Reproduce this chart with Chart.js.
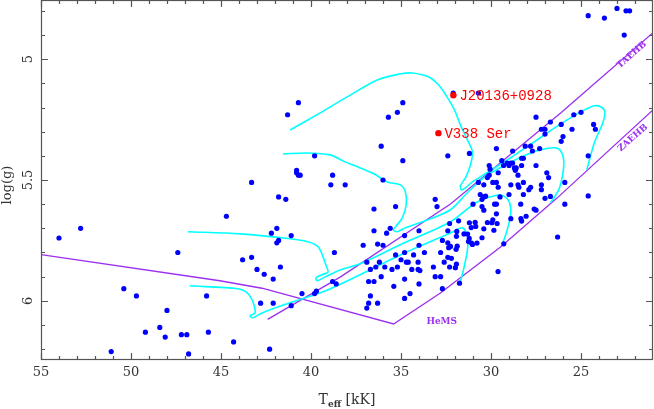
<!DOCTYPE html>
<html>
<head>
<meta charset="utf-8">
<script src="https://cdn.jsdelivr.net/npm/chart.js@4.4.1/dist/chart.umd.min.js"></script>
<style>
html,body{margin:0;padding:0;background:#fff;}
</style>
</head>
<body>
<canvas id="mainChart" width="654" height="409"></canvas>
<script>

/* DATA */

const starTeff = [
54.0,52.8,47.4,50.4,49.7,48.0,45.8,48.4,49.2,48.1,47.2,46.9,45.7,51.1,46.8,44.7,44.3,
40.7,41.3,39.8,40.8,40.8,40.7,40.6,38.8,43.3,38.9,38.1,41.8,41.4,41.9,42.2,41.1,41.8,41.9,
38.7,43.8,43.3,43.0,42.6,41.7,42.1,38.8,38.6,40.5,39.8,39.7,42.8,42.1,41.1,42.3,
34.9,35.2,35.7,36.1,34.9,36.0,33.1,32.4,32.1,30.7,31.2,
36.5,35.3,33.0,36.5,35.6,35.8,34.8,34.0,37.1,36.3,36.0,34.0,32.7,32.4,32.25,32.35,32.4,32.3,
36.9,36.2,35.3,34.8,35.0,34.7,34.6,34.3,33.7,32.8,32.4,36.7,36.4,35.9,35.5,35.2,34.4,34.05,
34.05,33.95,33.2,32.6,32.3,36.8,36.5,36.1,34.8,34.0,33.1,32.8,35.4,36.7,36.3,36.8,36.9,34.5,
34.8,32.7,
27.5,25.4,25.0,27.2,27.0,27.0,26.7,26.1,25.5,26.0,26.1,24.3,24.2,29.7,28.8,28.1,27.8,27.7,
27.3,28.3,28.2,29.4,29.3,29.1,29.0,28.9,28.8,28.7,28.6,28.65,28.3,27.5,30.1,30.05,28.5,29.6,
26.9,26.8,25.9,24.6,30.7,30.4,29.9,29.7,30.1,30.2,29.6,28.9,28.5,28.45,28.2,27.8,27.9,27.2,
27.2,28.2,29.0,29.5,30.6,30.4,30.3,27.0,26.7,24.6,
24.6,23.7,23.0,22.5,22.3,22.6,
30.5,31.0,29.8,29.7,28.35,27.6,27.5,25.9,30.5,30.4,29.7,28.05,28.34,28.3,28.9,29.9,29.95,
29.66,30.2,31.2,30.88,30.85,31.8,31.1,30.4,29.84,31.9,31.92,31.5,31.3,31.21,30.5,31.94,31.88,
31.25,31.08,31.03,30.78,29.29,32.2,31.92,31.98,31.75,29.61,26.3
];

const starLogg = [
5.74,5.70,5.80,5.95,5.98,6.04,5.98,6.11,6.13,6.15,6.14,6.14,6.13,6.21,6.22,5.65,6.17,
5.18,5.23,5.40,5.46,5.47,5.48,5.48,5.48,5.51,5.52,5.52,5.57,5.58,5.70,5.72,5.73,5.75,5.76,
5.80,5.83,5.82,5.87,5.89,5.86,5.91,5.92,5.93,5.97,5.97,5.96,6.01,6.01,6.02,6.20,
5.18,5.22,5.24,5.36,5.42,5.50,5.58,5.40,5.14,5.14,5.39,
5.62,5.61,5.61,5.71,5.70,5.72,5.73,5.71,5.77,5.765,5.77,5.77,5.75,5.76,5.775,5.78,5.71,5.68,
5.84,5.84,5.81,5.80,5.83,5.84,5.84,5.81,5.80,5.80,5.82,5.87,5.86,5.86,5.87,5.86,5.87,5.84,
5.87,5.875,5.86,5.84,5.86,5.92,5.92,5.90,5.91,5.93,5.90,5.90,5.94,5.98,6.01,6.01,6.03,5.97,
5.99,5.95,
5.24,5.23,5.22,5.29,5.29,5.31,5.26,5.27,5.29,5.32,5.34,5.27,5.29,5.37,5.38,5.36,5.36,5.38,
5.37,5.41,5.41,5.42,5.44,5.43,5.44,5.43,5.43,5.45,5.45,5.46,5.44,5.44,5.44,5.455,5.48,5.47,
5.47,5.49,5.51,5.40,5.51,5.52,5.51,5.51,5.48,5.49,5.53,5.52,5.52,5.53,5.51,5.53,5.54,5.52,
5.54,5.56,5.56,5.57,5.56,5.57,5.567,5.576,5.568,5.566,
4.82,4.83,4.79,4.80,4.80,4.90,
5.58,5.60,5.60,5.60,5.60,5.62,5.625,5.60,5.61,5.625,5.64,5.65,5.66,5.67,5.66,5.665,5.677,
5.68,5.676,5.677,5.675,5.692,5.669,5.697,5.702,5.708,5.713,5.733,5.723,5.724,5.742,5.739,5.787,5.774,
5.755,5.761,5.767,5.761,5.764,5.824,5.848,5.863,5.927,5.879,5.736
];

const namedStars = ["J20136+0928","V338 Ser"];
const namedTeff = [32.09,32.92];
const namedLogg = [5.149,5.306];

const trackATeff = [24.68,24.24,23.79,23.68,23.90,24.24,25.02,26.13,27.52,28.91,30.14,31.03,31.42,31.64,31.70,31.42,31.14,31.03,31.31,31.70,32.03,32.48,32.92,33.48,34.37,35.04,36.32,37.99,39.49,41.16];
const trackALogg = [5.458,5.342,5.264,5.218,5.197,5.193,5.218,5.268,5.338,5.408,5.466,5.508,5.532,5.541,5.524,5.491,5.437,5.384,5.334,5.272,5.210,5.152,5.106,5.073,5.057,5.061,5.086,5.156,5.222,5.293];

const trackBTeff = [26.69,26.24,26.02,25.96,26.13,26.41,26.97,27.80,29.19,30.42,31.42,32.25,33.65,34.76,35.21,35.43,35.26,34.93,34.71,34.76,35.04,35.76,36.49,37.27,38.10,38.94,40.22,41.55];
const trackBLogg = [5.594,5.541,5.479,5.417,5.379,5.367,5.371,5.388,5.437,5.491,5.561,5.623,5.669,5.698,5.714,5.706,5.690,5.657,5.603,5.549,5.520,5.508,5.475,5.450,5.425,5.396,5.388,5.392];

const trackCTeff = [29.36,29.13,28.91,28.97,29.30,29.86,30.86,32.25,35.04,37.27,38.38,39.21,39.66,39.72,39.38,39.05,39.16,39.33,39.60,40.16,41.16,43.95,46.84];
const trackCLogg = [5.764,5.714,5.644,5.594,5.566,5.566,5.595,5.673,5.768,5.847,5.872,5.901,5.917,5.905,5.892,5.880,5.855,5.818,5.777,5.756,5.743,5.723,5.714];

const trackDTeff = [31.70,31.53,31.31,31.31,31.59,32.25,35.04,37.27,39.33,41.16,42.72,43.22,43.39,43.11,43.17,43.34,43.61,44.06,46.73];
const trackDLogg = [5.921,5.872,5.789,5.731,5.698,5.719,5.810,5.892,5.963,6.008,6.050,6.070,6.062,6.050,6.016,5.987,5.963,5.950,5.938];

const taehbTeff = [42.41,38.38,32.25,26.13,21.0];
const taehbLogg = [6.077,5.902,5.599,5.223,4.89];

const zaehbTeff = [55.0,45.06,42.72,35.41,32.81,29.47,26.35,21.0];
const zaehbLogg = [5.809,5.917,5.948,6.096,5.968,5.777,5.576,5.21];

const xTickLabels = [55,50,45,40,35,30,25];
const yTickLabels = [5,5.5,6];

/* HELPERS */

function pts(tx, ty){
return tx.map((t,i)=>({x:t,y:ty[i]}));
}

const cyan = "#00ffff";
const purple = "#9b30f0";

function track(tx, ty){
return {
data:pts(tx,ty),
showLine:true,
borderColor:cyan,
borderWidth:1.6,
pointRadius:0,
tension:0.3,
order:3
};
}

/* FRAME, TICKS, TEXT */

const frame = {

id:"frame",

afterDraw(chart){

const {ctx, chartArea:a, scales:{x,y}} = chart;

ctx.save();

ctx.strokeStyle = "#555";
ctx.lineWidth = 1.2;

ctx.strokeRect(a.left+0.5, a.top+0.5, a.right-a.left-1, a.bottom-a.top-1);

ctx.beginPath();

for(let t=22; t<=55; t++){
const px = Math.round(x.getPixelForValue(t))+0.5;
const len = t%5===0 ? 7 : 4;
ctx.moveTo(px,a.bottom); ctx.lineTo(px,a.bottom-len);
ctx.moveTo(px,a.top); ctx.lineTo(px,a.top+len);
}

for(let i=48; i<=62; i++){
const py = Math.round(y.getPixelForValue(i/10))+0.5;
const len = i%5===0 ? 7 : 4;
ctx.moveTo(a.left,py); ctx.lineTo(a.left+len,py);
ctx.moveTo(a.right,py); ctx.lineTo(a.right-len,py);
}

ctx.stroke();

/* tick labels */

ctx.fillStyle = "#333";
ctx.font = '13px "DejaVu Serif"';
ctx.textAlign = "center";
ctx.textBaseline = "middle";

xTickLabels.forEach(t=>{
ctx.fillText(String(t), x.getPixelForValue(t), a.bottom+13);
});

yTickLabels.forEach(g=>{
ctx.save();
ctx.translate(a.left-12, y.getPixelForValue(g));
ctx.rotate(-Math.PI/2);
ctx.fillText(String(g), 0, 0);
ctx.restore();
});

/* axis titles */

ctx.save();
ctx.translate(8, (a.top+a.bottom)/2+5);
ctx.rotate(-Math.PI/2);
ctx.font = '13px "DejaVu Serif"';
ctx.fillText("log(g)", 0, 0);
ctx.restore();

ctx.textBaseline = "alphabetic";
ctx.textAlign = "left";
const cx = (a.left+a.right)/2;
ctx.font = '14px "DejaVu Serif"';
const wT = ctx.measureText("T").width;
const wK = ctx.measureText(" [kK]").width;
ctx.font = 'bold 9px "DejaVu Serif"';
const wE = ctx.measureText("eff").width;
let sx = cx - (wT+wE+wK)/2;
ctx.font = '14px "DejaVu Serif"';
ctx.fillText("T", sx, 404);
ctx.font = 'bold 9px "DejaVu Serif"';
ctx.fillText("eff", sx+wT, 407);
ctx.font = '14px "DejaVu Serif"';
ctx.fillText(" [kK]", sx+wT+wE, 404);

/* star names */

ctx.fillStyle = "#ff0000";
ctx.font = '14px "Liberation Mono"';
ctx.textBaseline = "middle";
namedStars.forEach((n,i)=>{
ctx.fillText(n, x.getPixelForValue(namedTeff[i])+6, y.getPixelForValue(namedLogg[i])+1);
});

/* sequence names */

ctx.fillStyle = purple;
ctx.font = 'bold 9px "DejaVu Serif"';
ctx.textAlign = "center";

ctx.save();
ctx.translate(x.getPixelForValue(22.18), y.getPixelForValue(4.982));
ctx.rotate(-0.72);
ctx.fillText("TAEHB", 0, 0);
ctx.restore();

ctx.save();
ctx.translate(x.getPixelForValue(22.12), y.getPixelForValue(5.326));
ctx.rotate(-0.72);
ctx.fillText("ZAEHB", 0, 0);
ctx.restore();

ctx.textAlign = "left";
ctx.fillText("HeMS", x.getPixelForValue(33.59), y.getPixelForValue(6.085));

ctx.restore();

}

};

/* CHART */

const ctx = document.getElementById("mainChart");

new Chart(ctx, {

type:"scatter",

data:{

datasets:[

{
data:pts(namedTeff,namedLogg),
backgroundColor:"#ff0000",
borderWidth:0,
pointRadius:3.2,
order:0
},

{
data:pts(starTeff,starLogg),
backgroundColor:"#0000ff",
borderWidth:0,
pointRadius:2.6,
order:1
},

track(trackATeff,trackALogg),
track(trackBTeff,trackBLogg),
track(trackCTeff,trackCLogg),
track(trackDTeff,trackDLogg),

{
data:pts(taehbTeff,taehbLogg),
showLine:true,
borderColor:purple,
borderWidth:1.3,
pointRadius:0,
order:4
},

{
data:pts(zaehbTeff,zaehbLogg),
showLine:true,
borderColor:purple,
borderWidth:1.3,
pointRadius:0,
order:4
}

]

},

options:{

responsive:false,
animation:false,

layout:{
autoPadding:false,
padding:{left:0,right:1,top:0,bottom:0}
},

plugins:{
legend:{display:false},
tooltip:{enabled:false}
},

scales:{

x:{
type:"linear",
reverse:true,
min:21,
max:55,
ticks:{display:false},
grid:{display:false},
border:{display:false},
afterFit(s){ s.height = 49; }
},

y:{
type:"linear",
reverse:true,
min:4.755,
max:6.245,
ticks:{display:false},
grid:{display:false},
border:{display:false},
afterFit(s){ s.width = 41; }
}

}

},

plugins:[frame]

});

</script>
</body>
</html>
